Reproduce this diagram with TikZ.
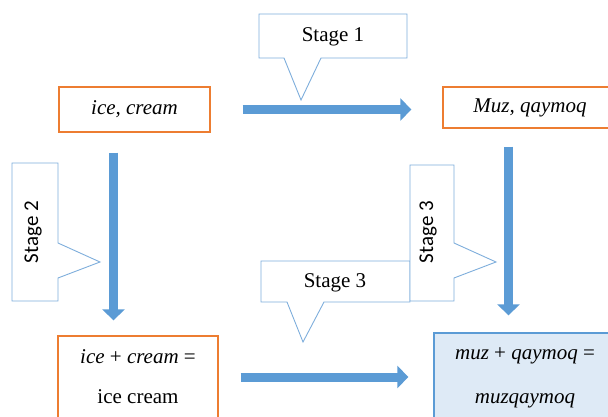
\documentclass[tikz,border=0pt]{standalone}
\usepackage{fontspec}
\setmainfont{Liberation Serif}
\newfontfamily\calib{Carlito}
\usetikzlibrary{arrows.meta}
\definecolor{boxorange}{HTML}{ED7D31}
\definecolor{arrowblue}{HTML}{5B9BD5}
\definecolor{calloutblue}{HTML}{7EAEDC}
\definecolor{sumfill}{HTML}{DEEAF6}
\begin{document}
\begin{tikzpicture}[x=1pt,y=-1pt,
  font=\fontsize{21}{25}\selectfont,
  word/.style={draw=boxorange,line width=1.3pt,fill=white,inner sep=0pt},
  bigarrow/.style={arrowblue,line width=9pt,-{Triangle[length=11pt,width=22pt]}},
  callout/.style={draw=calloutblue,line width=0.9pt,fill=white}]
  \useasboundingbox (0,0) rectangle (608,417);

  % the four word boxes
  \node[word,minimum width=151pt,minimum height=45pt] (ic) at (134.5,109.5) {\textit{ice, cream}};
  \node[word,minimum width=174pt,minimum height=41pt] (mq) at (530,107.5) {\textit{Muz, qaymoq}};
  \node[word,minimum width=160pt,minimum height=82pt,align=center,
        font=\fontsize{21}{40}\selectfont] (icsum) at (138,377)
        {\textit{ice} + \textit{cream} =\\ice cream};
  \node[word,draw=arrowblue,fill=sumfill,minimum width=182pt,minimum height=90pt,align=center,
        font=\fontsize{21}{44}\selectfont] (mqsum) at (525,378)
        {\textit{muz} + \textit{qaymoq} =\\\textit{muzqaymoq}};

  % arrows between the boxes
  \draw[bigarrow] ([xshift=32pt]ic.east) -- ([xshift=-31pt]mq.west |- ic.east);
  \draw[bigarrow] ([xshift=-21pt,yshift=-20pt]ic.south) -- ([xshift=-24.5pt,yshift=15pt]icsum.north);
  \draw[bigarrow] ([xshift=-21.5pt,yshift=-18pt]mq.south) -- ([xshift=-16.5pt,yshift=17pt]mqsum.north);
  \draw[bigarrow] ([xshift=22pt]icsum.east) -- ([xshift=-25pt]mqsum.west |- icsum.east);

  % stage callouts
  \draw[callout] (259,14) -- (407,14) -- (407,58) -- (321,58) -- (301,100) -- (284,58) -- (259,58) -- cycle;
  \node (s1) at (333,37) {Stage 1};
  \draw[callout] (12,163) -- (58,163) -- (58,243) -- (100,262) -- (58,278) -- (58,301) -- (12,301) -- cycle;
  \node[rotate=90,font=\calib\fontsize{21}{25}\selectfont] (s2) at (33,232) {Stage 2};
  \draw[callout] (261,261) -- (410,261) -- (410,302) -- (324,302) -- (303,342) -- (287,302) -- (261,302) -- cycle;
  \node (s3) at (335,283) {Stage 3};
  \draw[callout] (410,165) -- (454,165) -- (454,243) -- (496,262) -- (454,278) -- (454,301) -- (410,301) -- cycle;
  \node[rotate=90,font=\calib\fontsize{21}{25}\selectfont] (s3v) at (428,232) {Stage 3};
\end{tikzpicture}
\end{document}
